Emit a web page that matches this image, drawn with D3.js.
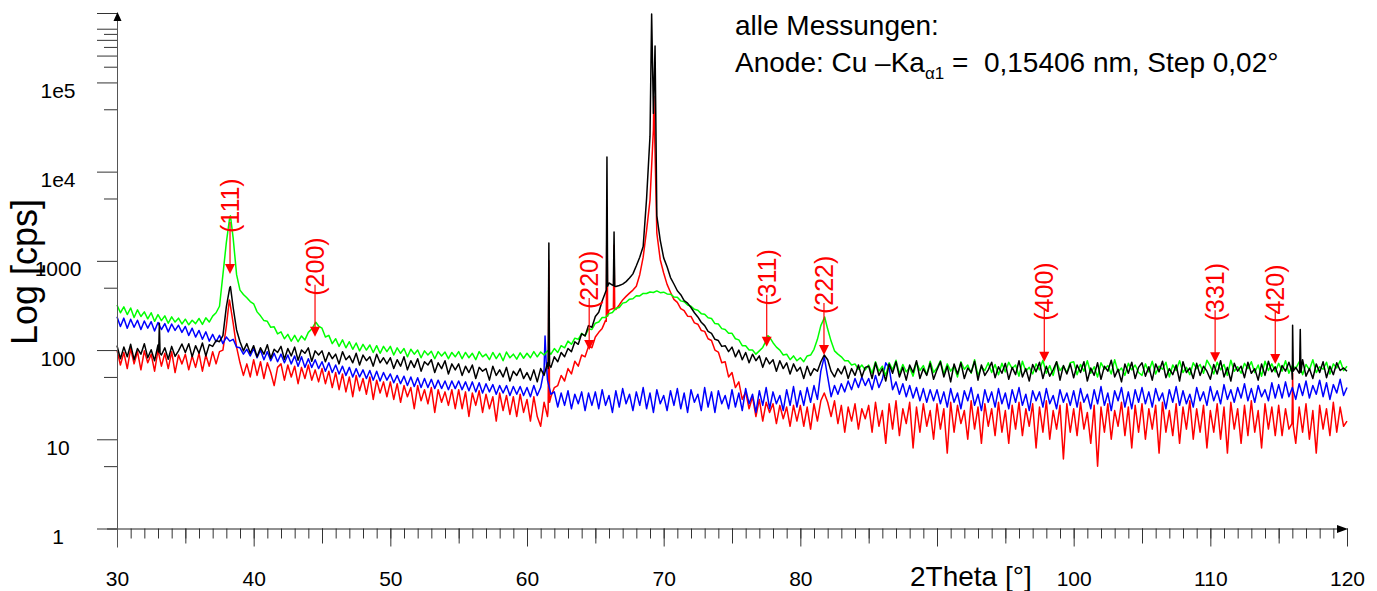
<!DOCTYPE html>
<html>
<head>
<meta charset="utf-8">
<script src="https://cdn.jsdelivr.net/npm/d3@7"></script>
<style>
  body { margin: 0; background: #fff; }
  text { font-family: "Liberation Sans", Arial, sans-serif; }
</style>
</head>
<body>
<div id="chart"></div>
<script>
// measured intensities, one value every 0.25 deg from 30 to 120 (2Theta)
var startAngle = 30, stepAngle = 0.25;

var greenCps = [
  320, 262, 305, 250, 296, 232, 282, 238, 268, 224, 262, 210, 250, 214, 242, 200, 236, 206, 228, 196,
  222, 192, 216, 198, 226, 194, 230, 206, 240, 262, 310, 700, 1600, 3100, 1800, 700, 470, 420, 385, 350,
  330, 268, 242, 214, 210, 180, 182, 152, 160, 134, 150, 126, 146, 124, 144, 130, 158, 172, 200, 186,
  176, 140, 146, 118, 134, 110, 130, 106, 124, 102, 120, 98, 116, 100, 114, 94, 112, 92, 110, 96,
  110, 88, 106, 92, 104, 84, 102, 90, 100, 82, 98, 88, 97, 80, 96, 86, 95, 80, 94, 84,
  96, 80, 94, 82, 92, 78, 96, 84, 90, 78, 94, 80, 92, 76, 95, 82, 90, 79, 93, 81,
  92, 82, 96, 84, 95, 88, 98, 90, 104, 94, 112, 106, 126, 116, 136, 132, 154, 144, 172, 170,
  200, 206, 232, 232, 256, 264, 294, 300, 336, 344, 372, 376, 406, 404, 432, 430, 448, 442, 460, 440,
  446, 426, 422, 394, 390, 356, 348, 320, 310, 286, 280, 256, 252, 230, 226, 198, 196, 174, 170, 154,
  154, 134, 130, 112, 112, 100, 100, 90, 98, 107, 128, 140, 121, 108, 100, 88, 90, 78, 86, 76,
  82, 74, 86, 88, 102, 132, 188, 228, 172, 126, 98, 90, 84, 76, 76, 68, 70, 61, 68, 60,
  68, 55, 74, 58, 66, 52, 72, 60, 77, 54, 69, 57, 64, 51, 73, 59, 67, 53, 75, 56,
  63, 76, 54, 70, 58, 66, 50, 74, 61, 68, 55, 78, 52, 65, 59, 72, 56, 69, 53, 71,
  57, 73, 62, 68, 51, 75, 58, 64, 54, 70, 60, 77, 55, 67, 52, 74, 59, 66, 56, 72,
  74, 53, 69, 58, 76, 55, 65, 50, 72, 61, 67, 54, 78, 57, 63, 52, 71, 60, 68, 56,
  52, 70, 57, 75, 54, 66, 61, 73, 50, 68, 59, 76, 56, 64, 53, 72, 62, 69, 55, 77,
  66, 54, 73, 60, 69, 52, 77, 58, 65, 55, 71, 62, 74, 56, 68, 51, 75, 59, 70, 57,
  71, 58, 76, 55, 67, 62, 74, 53, 69, 60, 78, 56, 65, 61, 73, 54, 70, 63, 76, 59,
  66
];

var blueCps = [
  236, 184, 228, 176, 222, 180, 216, 170, 212, 176, 208, 164, 204, 170, 198, 160, 196, 166, 190, 158,
  184, 146, 176, 140, 166, 132, 160, 126, 150, 124, 146, 118, 140, 126, 132, 108, 106, 90, 102, 86,
  104, 82, 100, 78, 96, 76, 92, 74, 90, 72, 88, 70, 86, 66, 84, 64, 80, 64, 78, 62,
  74, 58, 72, 56, 68, 54, 66, 52, 64, 50, 62, 50, 60, 48, 59, 46, 58, 45, 56, 46,
  54, 43, 52, 42, 51, 40, 50, 39, 49, 38, 48, 38, 47, 37, 46, 37, 45, 36, 45, 37,
  45, 36, 44, 35, 44, 34, 43, 33, 42, 34, 41, 32, 40, 33, 40, 31, 39, 32, 39, 31,
  38, 30, 40, 31, 38, 60, 46, 32, 34, 23, 33, 24, 35, 22, 32, 25, 34, 21, 33, 24,
  34, 22, 36, 24, 31, 20, 35, 23, 37, 25, 32, 21, 34, 24, 38, 22, 33, 20, 36, 25,
  31, 21, 35, 24, 37, 22, 33, 20, 36, 26, 32, 21, 38, 23, 34, 20, 35, 25, 31, 22,
  36, 23, 33, 21, 37, 25, 32, 20, 35, 24, 38, 22, 34, 25, 31, 21, 36, 24, 39, 23,
  35, 24, 38, 26, 40, 28, 58, 84, 50, 30, 40, 32, 42, 34, 45, 36, 48, 38, 50, 40,
  48, 36, 52, 38, 47, 72, 63, 36, 44, 32, 42, 30, 40, 29, 38, 27, 37, 26, 36, 27,
  36, 25, 34, 23, 37, 26, 33, 22, 35, 27, 38, 24, 32, 21, 36, 26, 34, 23, 37, 25,
  33, 22, 36, 26, 38, 24, 32, 21, 35, 27, 34, 23, 37, 25, 31, 22, 36, 26, 33, 24,
  35, 23, 37, 26, 32, 22, 36, 25, 39, 24, 33, 21, 35, 27, 38, 23, 34, 22, 36, 26,
  38, 25, 34, 23, 37, 27, 33, 22, 36, 26, 39, 24, 35, 25, 32, 23, 38, 27, 34, 24,
  39, 27, 35, 25, 41, 28, 36, 26, 38, 29, 42, 27, 37, 26, 40, 30, 36, 27, 43, 29,
  41, 29, 44, 30, 38, 28, 42, 31, 45, 29, 40, 32, 46, 30, 43, 28, 41, 33, 47, 31,
  38
];

var blackCps = [
  112, 80, 108, 84, 116, 78, 104, 90, 118, 82, 101, 76, 114, 88, 106, 79, 110, 85, 98, 117,
  94, 118, 84, 112, 92, 120, 86, 115, 110, 128, 124, 145, 305, 500, 300, 168, 124, 98, 118, 92,
  112, 84, 106, 90, 115, 81, 102, 94, 110, 79, 104, 86, 108, 77, 100, 92, 106, 75, 98, 88,
  98, 74, 94, 80, 90, 70, 96, 78, 86, 72, 92, 68, 88, 76, 84, 66, 90, 72, 82, 70,
  82, 62, 78, 66, 84, 60, 76, 64, 80, 58, 74, 68, 78, 56, 72, 62, 76, 54, 70, 60,
  70, 52, 66, 56, 68, 48, 64, 58, 62, 46, 66, 52, 60, 50, 64, 45, 58, 52, 62, 48,
  56, 46, 60, 44, 62, 52, 72, 64, 84, 74, 94, 84, 104, 96, 124, 116, 152, 144, 188, 180,
  238, 265, 355, 448, 565, 535, 515, 530, 548, 585, 642, 715, 880, 1100, 1450, 5000, 25000, 45000, 3200, 1700,
  1080, 860, 650, 550, 462, 418, 358, 336, 300, 262, 235, 205, 188, 162, 154, 132, 128, 110, 112, 96,
  108, 84, 100, 78, 94, 72, 90, 76, 86, 64, 82, 70, 78, 58, 76, 62, 72, 54, 70, 58,
  64, 48, 66, 52, 62, 58, 74, 88, 78, 58, 50, 62, 54, 66, 48, 62, 52, 68, 50, 64,
  66, 48, 72, 52, 62, 45, 70, 55, 74, 50, 64, 46, 68, 56, 76, 48, 62, 52, 71, 47,
  60, 74, 50, 66, 44, 70, 54, 72, 48, 63, 56, 75, 46, 68, 52, 60, 73, 49, 65, 55,
  71, 47, 64, 53, 76, 50, 62, 45, 69, 57, 73, 48, 66, 51, 60, 74, 46, 67, 54, 70,
  49, 68, 56, 74, 45, 63, 52, 72, 47, 66, 58, 77, 50, 61, 44, 70, 55, 73, 48, 64,
  72, 51, 65, 46, 70, 57, 75, 49, 62, 53, 68, 45, 74, 56, 63, 48, 71, 52, 66, 58,
  47, 69, 54, 76, 50, 64, 45, 71, 58, 66, 49, 73, 55, 62, 46, 70, 52, 75, 57, 65,
  50, 67, 58, 73, 47, 64, 55, 78, 51, 62, 48, 70, 56, 74, 49, 66, 53, 72, 59, 63,
  58
];

var redCps = [
  100, 68, 94, 62, 104, 70, 96, 60, 98, 72, 90, 58, 100, 66, 92, 62, 96, 56, 88, 70,
  90, 60, 86, 64, 92, 58, 88, 66, 96, 70, 96, 100, 185, 350, 200, 108, 72, 52, 70, 50,
  78, 52, 74, 48, 72, 56, 40, 64, 70, 46, 68, 50, 66, 42, 64, 48, 68, 46, 60, 44,
  62, 42, 58, 38, 56, 36, 54, 34, 50, 30, 52, 35, 48, 32, 50, 28, 46, 33, 44, 30,
  44, 28, 42, 26, 40, 30, 38, 22, 40, 27, 36, 25, 38, 20, 36, 26, 34, 24, 36, 22,
  36, 22, 34, 18, 33, 24, 35, 20, 32, 22, 30, 16, 33, 21, 31, 19, 30, 18, 32, 20,
  28, 16, 30, 18, 14, 26, 18, 30, 38, 40, 52, 45, 62, 54, 75, 66, 88, 84, 110, 106,
  140, 158, 175, 215, 280, 290, 285, 320, 365, 400, 435, 470, 520, 700, 1100, 2200, 4800, 30000, 2050, 1030,
  730, 545, 445, 370, 342, 292, 276, 240, 238, 202, 195, 166, 162, 134, 128, 100, 95, 72, 74, 50,
  56, 38, 44, 28, 34, 22, 30, 18, 28, 16, 26, 20, 25, 15, 24, 17, 23, 14, 24, 16,
  24, 14, 23, 13, 25, 16, 27, 33, 26, 18, 27, 15, 24, 12, 23, 16, 25, 13, 22, 17,
  24, 12, 26, 14, 21, 9, 25, 13, 27, 11, 22, 15, 26, 8, 23, 12, 25, 14, 21, 10,
  25, 13, 22, 7, 26, 12, 24, 15, 21, 10, 27, 13, 23, 9, 25, 14, 22, 11, 26, 12,
  21, 9, 24, 13, 26, 11, 22, 14, 25, 8, 23, 12, 27, 10, 21, 13, 24, 6, 25, 12,
  22, 11, 26, 13, 20, 9, 24, 5, 23, 12, 25, 10, 21, 14, 26, 11, 23, 8, 24, 12,
  25, 10, 22, 13, 24, 7, 26, 12, 21, 11, 25, 9, 23, 13, 27, 10, 22, 12, 24, 8,
  21, 12, 25, 10, 23, 7, 26, 13, 22, 9, 24, 11, 27, 12, 21, 8, 25, 13, 23, 11,
  24, 11, 22, 13, 26, 9, 23, 12, 25, 10, 21, 7, 24, 13, 22, 11, 26, 12, 23, 14,
  16
];

// narrow reflections that fall between the 0.25 deg points: [2Theta, cps]
var greenPeaks = [[38.3, 3200], [44.55, 205], [77.62, 145], [81.78, 235]];
var bluePeaks = [[61.32, 144], [61.4, 75]];
var blackPeaks = [[33.05, 95], [33.1, 200], [33.15, 92], [38.3, 515],
  [61.55, 62], [61.6, 1590], [61.65, 68],
  [65.8, 470], [65.85, 14600], [65.9, 520], [66.32, 530], [66.37, 2110], [66.42, 520],
  [69.12, 586000], [69.37, 256000],
  [115.97, 57], [116.02, 190], [116.07, 58], [116.53, 58], [116.58, 170], [116.63, 56]];
var redPeaks = [[38.22, 365], [61.55, 22], [61.6, 1000], [61.65, 26],
  [65.8, 210], [65.85, 4000], [65.9, 240], [66.32, 290], [66.37, 1500], [66.42, 290],
  [69.28, 70000], [115.97, 15], [116.02, 55], [116.07, 14]];

// reflection markers
var hklLabels = ["(111)", "(200)", "(220)", "(311)", "(222)", "(400)", "(331)", "(420)"];
var hklAngles = [38.27, 44.49, 64.55, 77.54, 81.73, 97.85, 110.35, 114.75];
var hklTips = [713, 141, 100, 109, 88, 74, 73, 70];

// axis ticks
var xTickLabels = [30, 40, 50, 60, 70, 80, 100, 110, 120];
var yTickMajor = [1, 10, 100, 1000, 10000, 100000];
var yTickLabels = ["1", "10", "100", "1000", "1e4", "1e5"];
var yTickLong = [200000, 300000, 400000, 600000];
var yTickShort = [5, 50, 500, 5000, 50000, 150000, 250000, 350000];

var width = 1377, height = 591;
var font = '"Liberation Sans", Arial, sans-serif';

var svg = d3.select("#chart")
  .append("svg")
    .attr("width", width)
    .attr("height", height);

var x = d3.scaleLinear().domain([30, 120]).range([117, 1347]);
var y = d3.scaleLog().domain([1, 6e5]).range([528.5, 13]);

function buildSeries(values, peaks) {
  var pts = values.map(function(v, i) { return [startAngle + i * stepAngle, v]; });
  return pts.concat(peaks).sort(function(a, b) { return a[0] - b[0]; });
}

// drawing order: red at the bottom, black on top
var series = [
  {name: "red", color: "#ff0000", pts: buildSeries(redCps, redPeaks)},
  {name: "blue", color: "#0000ff", pts: buildSeries(blueCps, bluePeaks)},
  {name: "green", color: "#00ff00", pts: buildSeries(greenCps, greenPeaks)},
  {name: "black", color: "#000000", pts: buildSeries(blackCps, blackPeaks)}
];

var line = d3.line()
  .x(function(d) { return x(d[0]); })
  .y(function(d) { return y(d[1]); });

svg.selectAll("path.trace")
  .data(series)
  .enter()
  .append("path")
    .attr("class", "trace")
    .attr("d", function(d) { return line(d.pts); })
    .attr("stroke", function(d) { return d.color; })
    .attr("stroke-width", 1.5)
    .attr("stroke-linejoin", "round")
    .attr("fill", "none");

// X axis: 1 deg, 5 deg and 10 deg ticks
var xg = svg.append("g").attr("transform", "translate(0," + y(1) + ")");
xg.append("g").call(d3.axisBottom(x).tickValues(d3.range(30, 121, 1)).tickSize(10).tickFormat(""));
xg.append("g").call(d3.axisBottom(x).tickValues(d3.range(35, 120, 10)).tickSize(15).tickFormat(""));
xg.append("g").call(d3.axisBottom(x).tickValues(d3.range(30, 121, 10)).tickSize(18)
  .tickFormat(function(d) { return xTickLabels.indexOf(d) >= 0 ? d : ""; }));
xg.selectAll(".domain").remove();
xg.selectAll(".tick line").attr("stroke", "#333");
xg.selectAll(".tick text")
  .attr("y", 57.5).attr("dy", 0)
  .attr("fill", "#000")
  .style("font-family", font).style("font-size", "21px");
xg.append("line")
  .attr("x1", x(30) - 10).attr("x2", x(120) - 6)
  .attr("y1", 0.5).attr("y2", 0.5)
  .attr("stroke", "#222");
xg.append("path")
  .attr("d", "M" + (x(120) - 10) + ",-3.5L" + (x(120) + 1) + ",0.5L" + (x(120) - 10) + ",4.5Z")
  .attr("fill", "#000");

// Y axis (log)
var yg = svg.append("g").attr("transform", "translate(" + x(30) + ",0)");
yg.append("g").call(d3.axisLeft(y).tickValues(yTickShort).tickSize(13).tickFormat(""));
yg.append("g").call(d3.axisLeft(y).tickValues(yTickLong).tickSize(20).tickFormat(""));
yg.append("g").call(d3.axisLeft(y).tickValues(yTickMajor).tickSize(20)
  .tickFormat(function(d, i) { return yTickLabels[i]; }));
yg.selectAll(".domain").remove();
yg.selectAll(".tick line").attr("stroke", "#333");
yg.selectAll(".tick text")
  .attr("x", -59).attr("dy", 15)
  .attr("text-anchor", "middle")
  .attr("fill", "#000")
  .style("font-family", font).style("font-size", "21px");
yg.append("line")
  .attr("x1", 0.5).attr("x2", 0.5)
  .attr("y1", y(1) + 19).attr("y2", 20)
  .attr("stroke", "#555");
yg.append("path")
  .attr("d", "M-3.5,21L0.5,12L4.5,21Z")
  .attr("fill", "#000");

// axis titles
svg.append("text")
  .attr("transform", "translate(37," + 272 + ") rotate(-90)")
  .attr("text-anchor", "middle")
  .style("font-size", "36px")
  .text("Log [cps]");

svg.append("text")
  .attr("x", 910).attr("y", 586)
  .style("font-size", "28px")
  .text("2Theta [°]");

// annotation
var note = svg.append("g").style("font-size", "28px");
note.append("text").attr("x", 735).attr("y", 35).text("alle Messungen:");
var note2 = note.append("text").attr("x", 735).attr("y", 72).style("white-space", "pre");
note2.append("tspan").text("Anode: Cu \u2013Ka");
note2.append("tspan").attr("dy", 7).style("font-size", "17px").text("\u03b11");
note2.append("tspan").attr("dy", -7).text(" =  0,15406 nm, Step 0,02°");

// reflection arrows
var hkl = svg.append("g")
  .selectAll("g")
  .data(hklLabels)
  .enter()
  .append("g")
    .attr("transform", function(d, i) { return "translate(" + x(hklAngles[i]) + "," + y(hklTips[i]) + ")"; });
hkl.append("line")
  .attr("x1", 0).attr("x2", 0)
  .attr("y1", -52).attr("y2", -9)
  .attr("stroke", "#ff0000")
  .attr("stroke-width", 1.2);
hkl.append("path")
  .attr("d", "M-5,-10L5,-10L0,0Z")
  .attr("fill", "#ff0000");
hkl.append("text")
  .attr("transform", "translate(0,-41) rotate(-90)")
  .attr("dy", "0.36em")
  .attr("fill", "#ff0000")
  .style("font-size", "25px")
  .text(function(d) { return d; });
</script>
</body>
</html>
